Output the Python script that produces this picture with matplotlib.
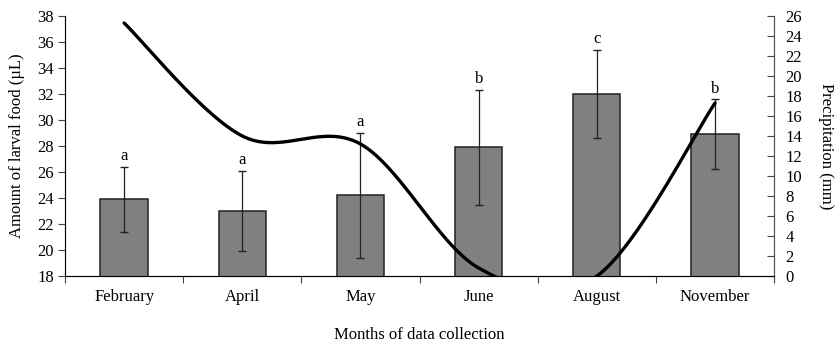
import numpy as np
import matplotlib.pyplot as plt

plt.rcParams['font.family'] = ['Liberation Serif', 'DejaVu Serif']
plt.rcParams['font.size'] = 12

months = ['February', 'April', 'May', 'June', 'August', 'November']
food = [23.9, 23.0, 24.2, 27.9, 32.0, 28.9]
food_err = [2.5, 3.1, 4.8, 4.4, 3.4, 2.7]
letters = ['a', 'a', 'a', 'b', 'c', 'b']
precip = [25.3, 14.0, 13.2, 0.8, 0.0, 17.3]


def smooth_line(x, y, n=60):
    # bezier segments with catmull-rom style control points (spreadsheet "smoothed line")
    x = np.asarray(x, float)
    y = np.asarray(y, float)
    px = np.concatenate([[x[0]], x, [x[-1]]])
    py = np.concatenate([[y[0]], y, [y[-1]]])
    xs, ys = [], []
    t = np.linspace(0, 1, n)
    for i in range(1, len(px) - 2):
        x0, x1, x2, x3 = px[i - 1:i + 3]
        y0, y1, y2, y3 = py[i - 1:i + 3]
        c1x, c1y = x1 + (x2 - x0) / 6, y1 + (y2 - y0) / 6
        c2x, c2y = x2 - (x3 - x1) / 6, y2 - (y3 - y1) / 6
        b0, b1, b2, b3 = (1 - t) ** 3, 3 * (1 - t) ** 2 * t, 3 * (1 - t) * t ** 2, t ** 3
        xs.append(b0 * x1 + b1 * c1x + b2 * c2x + b3 * x2)
        ys.append(b0 * y1 + b1 * c1y + b2 * c2y + b3 * y2)
    return np.concatenate(xs), np.concatenate(ys)


fig = plt.figure(figsize=(8.36, 3.43), dpi=100)
ax = fig.add_axes([0.0778, 0.1953, 0.8482, 0.7581])

pos = np.arange(len(months)) + 0.5
ax.bar(pos, food, width=0.4, color='#808080', edgecolor='#222222', linewidth=1.1, zorder=2)
ax.errorbar(pos, food, yerr=food_err, fmt='none', ecolor='#222222', elinewidth=0.9,
            capsize=3, capthick=1.0, zorder=3)
for p, v, e, l in zip(pos, food, food_err, letters):
    ax.text(p, v + e + 0.2, l, ha='center', va='bottom', fontsize=12)

ax.set_xlim(0, 6)
ax.set_ylim(18, 38)
ax.set_yticks(np.arange(18, 39, 2))
ax.set_xticks(np.arange(0, 7))
ax.set_xticklabels([])
ax.set_xticks(pos, minor=True)
ax.set_xticklabels(months, minor=True)
ax.tick_params(axis='x', which='major', direction='out', length=5, color='#444444')
ax.tick_params(axis='x', which='minor', length=0, pad=9)
ax.tick_params(axis='y', direction='out', length=5, color='#444444', pad=3)
ax.spines['top'].set_visible(False)
for s in ['left', 'bottom', 'right']:
    ax.spines[s].set_color('#555555')
ax.set_ylabel('Amount of larval food (µL)', labelpad=9)
ax.set_xlabel('Months of data collection', labelpad=16)

ax2 = ax.twinx()
sx, sy = smooth_line(pos, precip)
ax2.plot(sx, sy, color='black', linewidth=2.4, solid_capstyle='round', zorder=4)
ax2.set_ylim(0, 26)
ax2.set_yticks(np.arange(0, 27, 2))
ax2.tick_params(axis='y', direction='in', length=5, color='#444444', pad=8)
ax2.spines['top'].set_visible(False)
ax2.spines['right'].set_color('#555555')
ax2.set_ylabel('Precipitation (mm)', rotation=270, labelpad=23)

fig.savefig('out.png', dpi=100)
